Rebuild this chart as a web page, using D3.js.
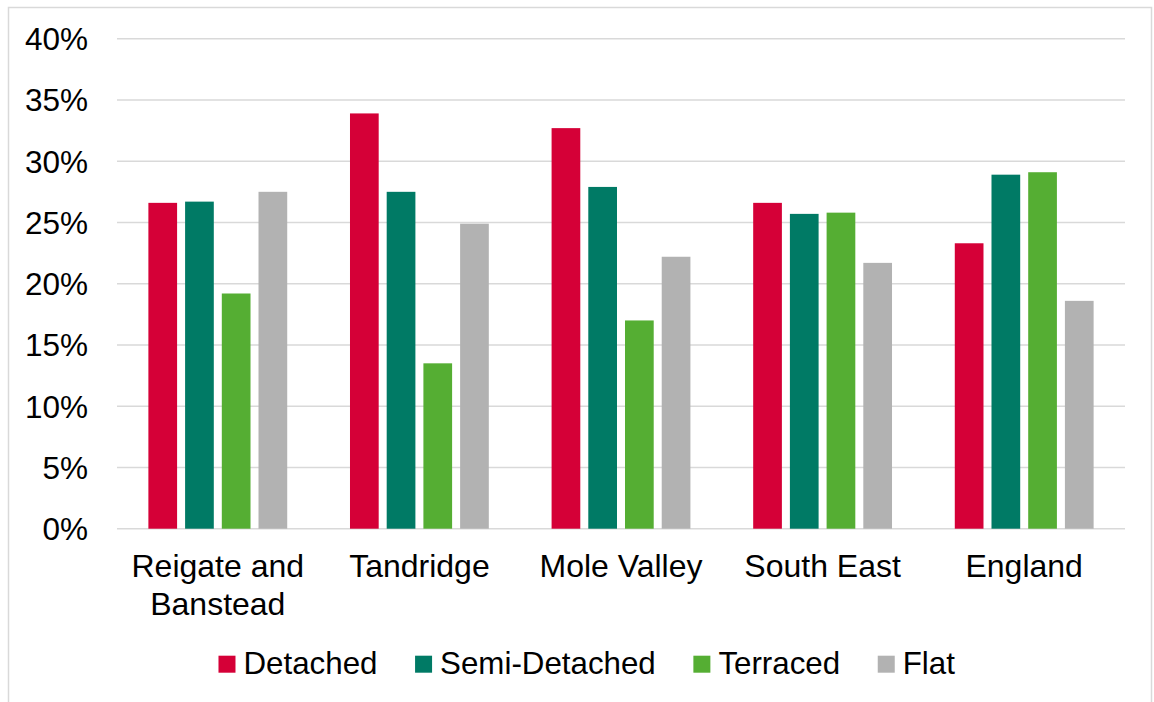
<!DOCTYPE html>
<html>
<head>
<meta charset="utf-8">
<script src="https://cdn.jsdelivr.net/npm/d3@7"></script>
<style>
  html, body { margin: 0; padding: 0; background: #ffffff; }
  svg { display: block; font-family: "Liberation Sans", Arial, sans-serif; }
</style>
</head>
<body>
<svg id="chart" width="1154" height="702"></svg>
<script>
// Share of dwellings by property type, per area
const categories = [["Reigate and", "Banstead"], ["Tandridge"], ["Mole Valley"], ["South East"], ["England"]];
const seriesNames = ["Detached", "Semi-Detached", "Terraced", "Flat"];
const detached     = [26.6, 33.9, 32.7, 26.6, 23.3];
const semiDetached = [26.7, 27.5, 27.9, 25.7, 28.9];
const terraced     = [19.2, 13.5, 17.0, 25.8, 29.1];
const flat         = [27.5, 24.9, 22.2, 21.7, 18.6];
const yTicks = [0, 5, 10, 15, 20, 25, 30, 35, 40];
const colors = ["#d50037", "#007a65", "#55ae33", "#b2b2b2"];

const seriesValues = [detached, semiDetached, terraced, flat];
const catKeys = categories.map(c => c.join(" "));

const svg = d3.select("#chart");

// Outer chart frame
svg.append("rect")
  .attr("x", 8.5).attr("y", 7.5)
  .attr("width", 1143).attr("height", 700)
  .attr("fill", "none").attr("stroke", "#d9d9d9").attr("stroke-width", 1.5);

const plot = { left: 117, right: 1125, top: 38.7, bottom: 528.7 };

const y = d3.scaleLinear().domain([0, 40]).range([plot.bottom, plot.top]);
const x0 = d3.scaleBand().domain(catKeys).range([plot.left, plot.right]).padding(0);
const x1 = d3.scaleBand().domain(seriesNames).range([0, x0.bandwidth()])
  .paddingInner(0.218).paddingOuter(0.855);

// Horizontal gridlines
svg.append("g").selectAll("line").data(yTicks).join("line")
  .attr("x1", plot.left).attr("x2", plot.right)
  .attr("y1", d => y(d)).attr("y2", d => y(d))
  .attr("stroke", "#d9d9d9").attr("stroke-width", 1.6);

// Y axis labels
const yAxis = d3.axisLeft(y).tickValues(yTicks).tickFormat(d => d + "%").tickSize(0).tickPadding(0);
const yg = svg.append("g").attr("transform", `translate(88,0)`).call(yAxis);
yg.select(".domain").remove();
yg.selectAll("text")
  .attr("font-size", 31.5).attr("fill", "#000")
  .attr("font-family", "'Liberation Sans', Arial, sans-serif")
  .attr("dy", "0.35em");

// Bars
const groups = svg.append("g").selectAll("g").data(catKeys).join("g")
  .attr("transform", d => `translate(${x0(d)},0)`);
groups.selectAll("rect")
  .data((d, i) => seriesNames.map((s, j) => ({ s, j, v: seriesValues[j][i] })))
  .join("rect")
  .attr("x", d => x1(d.s))
  .attr("width", x1.bandwidth())
  .attr("y", d => y(d.v))
  .attr("height", d => y(0) - y(d.v))
  .attr("fill", d => colors[d.j]);

// Category labels
const xLabels = svg.append("g").selectAll("text").data(categories).join("text")
  .attr("x", (d, i) => x0(catKeys[i]) + x0.bandwidth() / 2)
  .attr("y", 576.7)
  .attr("text-anchor", "middle")
  .attr("font-size", 32).attr("fill", "#000");
xLabels.selectAll("tspan").data(d => d).join("tspan")
  .attr("x", function () { return this.parentNode.getAttribute("x"); })
  .attr("dy", (d, i) => i === 0 ? 0 : 38.3)
  .text(d => d);

// Legend
const legend = svg.append("g");
const items = legend.selectAll("g").data(seriesNames).join("g");
items.append("rect").attr("width", 17).attr("height", 17).attr("y", 655.7)
  .attr("fill", (d, i) => colors[i]);
items.append("text").attr("x", 25).attr("y", 674.3)
  .attr("font-size", 31.3).attr("fill", "#000").text(d => d);
const widths = [];
items.each(function () {
  const w = 25 + d3.select(this).select("text").node().getComputedTextLength();
  widths.push(w);
});
const totalW = d3.sum(widths) + 37.6 * (widths.length - 1);
let start = 586.7 - totalW / 2;
items.attr("transform", (d, i) => {
  const t = `translate(${start},0)`;
  start += widths[i] + 37.6;
  return t;
});
</script>
</body>
</html>
